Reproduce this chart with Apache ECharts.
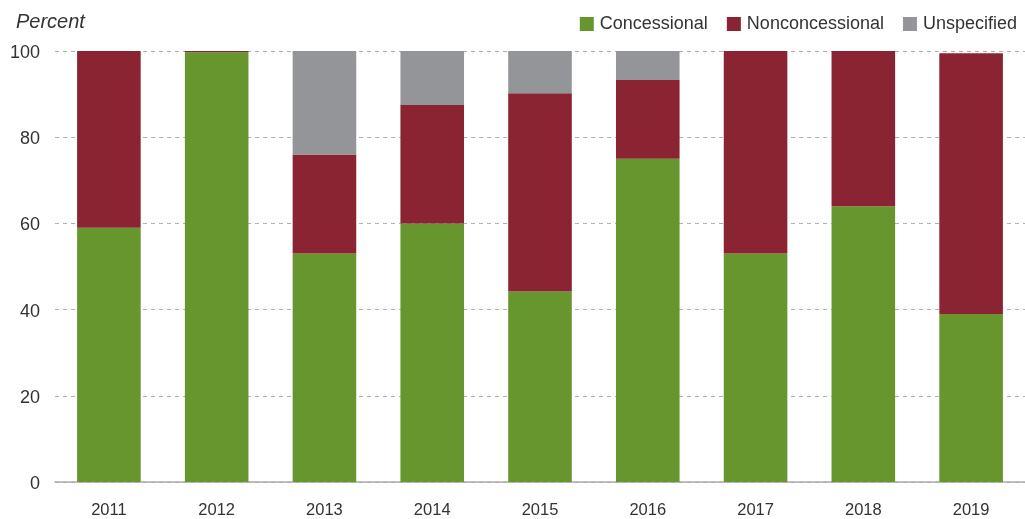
<!DOCTYPE html>
<html><head><meta charset="utf-8">
<script src="https://cdn.jsdelivr.net/npm/echarts@6/dist/echarts.min.js"></script>
<style>html,body{margin:0;padding:0;background:#fff}#c{width:1025px;height:519px}</style>
</head><body><div id="c"></div>
<script>
const years = ['2011','2012','2013','2014','2015','2016','2017','2018','2019'];
const concessional    = [59, 99.7, 53, 60, 44.2, 75, 53, 64, 39];
const nonconcessional = [41, 0.3, 23, 27.5, 46, 18.3, 47, 36, 60.5];
const unspecified     = [0, 0, 24, 12.5, 9.8, 6.7, 0, 0, 0];
const yTicks = [0, 20, 40, 60, 80, 100];

const font = 'Liberation Sans, Helvetica, Arial, sans-serif';
const chart = echarts.init(document.getElementById('c'));
const mk = (name, data, color) => ({
  name, type: 'bar', stack: 'a', data, barWidth: '59%',
  itemStyle: { color }, emphasis: { disabled: true }
});
chart.setOption({
  animation: false,
  textStyle: { fontFamily: font },
  grid: { left: 55, right: 0, top: 51, bottom: 36 },
  title: { text: 'Percent', left: 11, top: 7,
    textStyle: { fontFamily: font, fontStyle: 'italic', fontWeight: 'normal', fontSize: 20, color: '#333' } },
  legend: { right: 3, top: 10, icon: 'rect', itemWidth: 14, itemHeight: 14, itemGap: 19,
    textStyle: { fontFamily: font, fontSize: 18, color: '#333', padding: [0,0,0,1] },
    data: ['Concessional', 'Nonconcessional', 'Unspecified'] },
  xAxis: { type: 'category', data: years,
    axisLine: { lineStyle: { color: '#aaa', width: 1.5 } }, axisTick: { show: false },
    axisLabel: { fontSize: 16.5, color: '#333', margin: 20 } },
  yAxis: { type: 'value', min: 0, max: 100, interval: 20,
    axisLine: { show: false }, axisTick: { show: false },
    axisLabel: { fontSize: 18, color: '#333', margin: 15, verticalAlign: 'top', lineHeight: 18, padding: [-7,0,0,0],
      formatter: v => yTicks.includes(v) ? String(v) : '' },
    splitLine: { lineStyle: { type: [4, 4], color: '#b0b0b0' } } },
  series: [
    mk('Concessional', concessional, '#66962d'),
    mk('Nonconcessional', nonconcessional, '#8a2332'),
    mk('Unspecified', unspecified, '#939598')
  ]
});
</script></body></html>
